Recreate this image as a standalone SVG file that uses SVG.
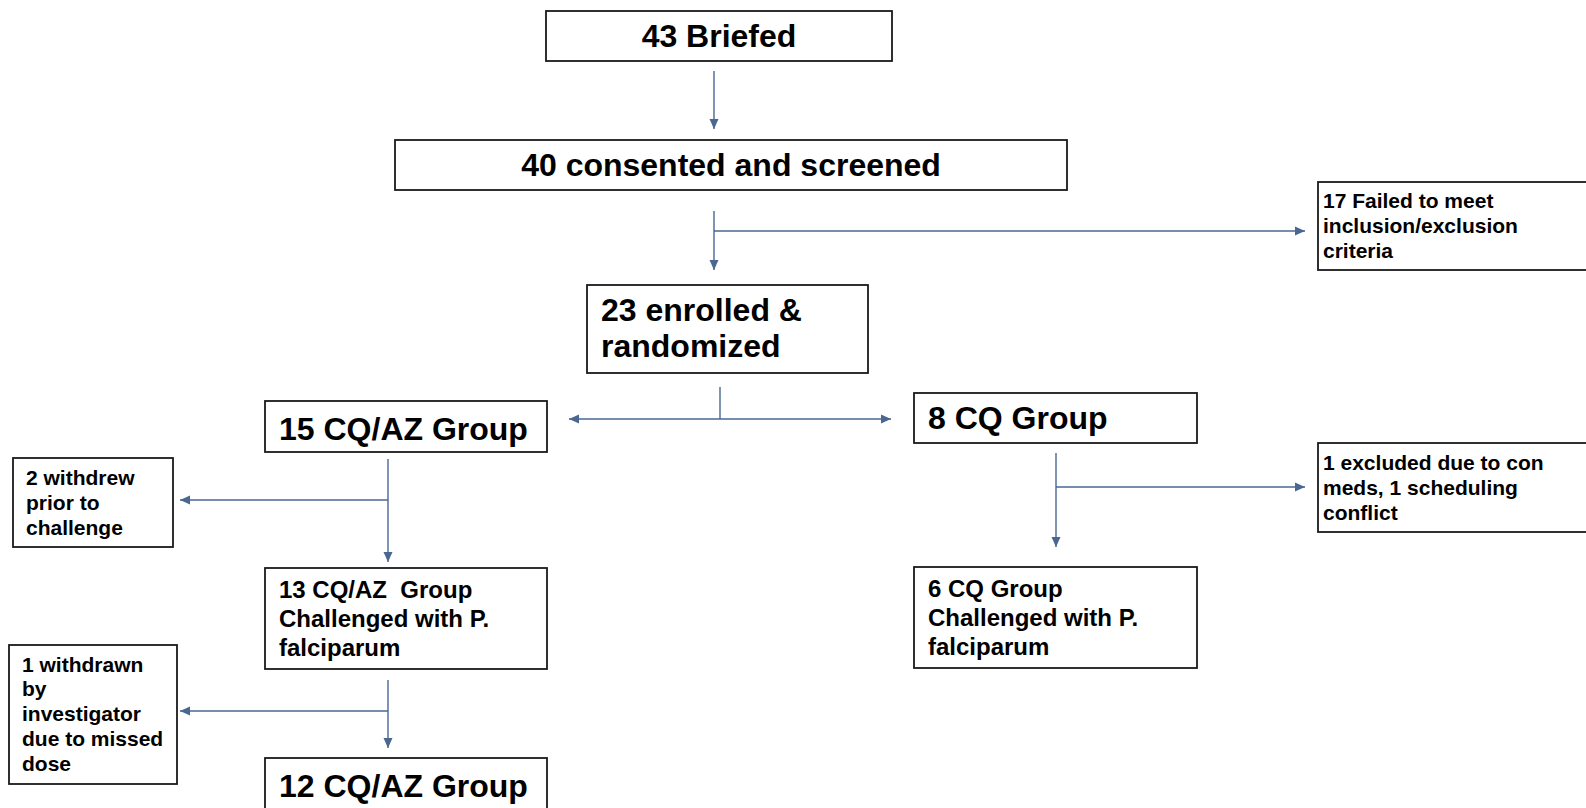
<svg xmlns="http://www.w3.org/2000/svg" width="1586" height="808" viewBox="0 0 1586 808">
<style>
  .box { fill: #ffffff; stroke: #1a1a1a; stroke-width: 1.8; }
  .t { font-family: "Liberation Sans", Arial, sans-serif; font-weight: bold; fill: #000000; }
  .big { font-size: 32px; }
  .mid { font-size: 24px; }
  .sm { font-size: 21px; }
  .ctr { text-anchor: middle; }
  .pre { white-space: pre; }
  .conn { fill: none; stroke: #4a6792; stroke-width: 1.4; }
</style>
<defs>
  <marker id="arrow" markerUnits="userSpaceOnUse" markerWidth="10" markerHeight="10" viewBox="0 0 10 10" refX="10" refY="5" orient="auto-start-reverse">
    <path d="M0,0.5 L10,5 L0,9.5 z" fill="#4a6792"/>
  </marker>
</defs>
<rect width="1586" height="808" fill="#ffffff"/>

<g id="connectors">
  <line class="conn" x1="714" y1="71" x2="714" y2="129" marker-end="url(#arrow)"/>
  <line class="conn" x1="714" y1="211" x2="714" y2="270" marker-end="url(#arrow)"/>
  <line class="conn" x1="714" y1="231" x2="1305" y2="231" marker-end="url(#arrow)"/>
  <line class="conn" x1="720" y1="387" x2="720" y2="419"/>
  <line class="conn" x1="569" y1="419" x2="891" y2="419" marker-start="url(#arrow)" marker-end="url(#arrow)"/>
  <line class="conn" x1="388" y1="459" x2="388" y2="562" marker-end="url(#arrow)"/>
  <line class="conn" x1="388" y1="500" x2="180" y2="500" marker-end="url(#arrow)"/>
  <line class="conn" x1="388" y1="680" x2="388" y2="748" marker-end="url(#arrow)"/>
  <line class="conn" x1="388" y1="711" x2="180" y2="711" marker-end="url(#arrow)"/>
  <line class="conn" x1="1056" y1="453" x2="1056" y2="547" marker-end="url(#arrow)"/>
  <line class="conn" x1="1056" y1="487" x2="1305" y2="487" marker-end="url(#arrow)"/>
</g>

<g id="node-briefed">
  <rect class="box" x="546" y="11" width="346" height="50"/>
  <text class="t big ctr" x="719" y="47">43 Briefed</text>
</g>

<g id="node-consented">
  <rect class="box" x="395" y="140" width="672" height="50"/>
  <text class="t big ctr" x="731" y="176">40 consented and screened</text>
</g>

<g id="node-failed">
  <rect class="box" x="1318" y="182" width="280" height="88"/>
  <text class="t sm" x="1323" y="208">17 Failed to meet</text>
  <text class="t sm" x="1323" y="233">inclusion/exclusion</text>
  <text class="t sm" x="1323" y="258">criteria</text>
</g>

<g id="node-enrolled">
  <rect class="box" x="587" y="285" width="281" height="88"/>
  <text class="t big" x="601" y="321">23 enrolled &amp;</text>
  <text class="t big" x="601" y="357">randomized</text>
</g>

<g id="node-cqaz15">
  <rect class="box" x="265" y="401" width="282" height="51"/>
  <text class="t big" x="279" y="440">15 CQ/AZ Group</text>
</g>

<g id="node-cq8">
  <rect class="box" x="914" y="393" width="283" height="50"/>
  <text class="t big" x="928" y="429">8 CQ Group</text>
</g>

<g id="node-withdrew2">
  <rect class="box" x="13" y="458" width="160" height="89"/>
  <text class="t sm" x="26" y="485">2 withdrew</text>
  <text class="t sm" x="26" y="510">prior to</text>
  <text class="t sm" x="26" y="535">challenge</text>
</g>

<g id="node-excluded1">
  <rect class="box" x="1318" y="443" width="280" height="89"/>
  <text class="t sm" x="1323" y="470">1 excluded due to con</text>
  <text class="t sm" x="1323" y="495">meds, 1 scheduling</text>
  <text class="t sm" x="1323" y="520">conflict</text>
</g>

<g id="node-cqaz13">
  <rect class="box" x="265" y="568" width="282" height="101"/>
  <text class="t mid pre" x="279" y="598">13 CQ/AZ  Group</text>
  <text class="t mid" x="279" y="627">Challenged with P.</text>
  <text class="t mid" x="279" y="656">falciparum</text>
</g>

<g id="node-cq6">
  <rect class="box" x="914" y="567" width="283" height="101"/>
  <text class="t mid" x="928" y="597">6 CQ Group</text>
  <text class="t mid" x="928" y="626">Challenged with P.</text>
  <text class="t mid" x="928" y="655">falciparum</text>
</g>

<g id="node-withdrawn1">
  <rect class="box" x="9" y="645" width="168" height="139"/>
  <text class="t sm" x="22" y="672">1 withdrawn</text>
  <text class="t sm" x="22" y="696">by</text>
  <text class="t sm" x="22" y="721">investigator</text>
  <text class="t sm" x="22" y="746">due to missed</text>
  <text class="t sm" x="22" y="771">dose</text>
</g>

<g id="node-cqaz12">
  <rect class="box" x="265" y="758" width="282" height="60"/>
  <text class="t big" x="279" y="797">12 CQ/AZ Group</text>
</g>
</svg>
